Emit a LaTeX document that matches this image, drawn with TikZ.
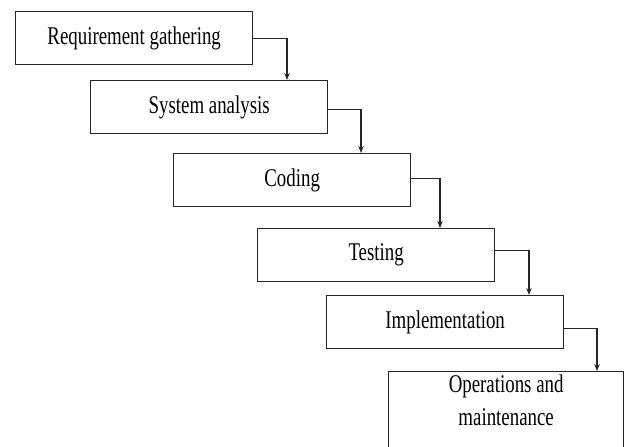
\documentclass[tikz,border=0pt]{standalone}
\usepackage{fontspec}
\setmainfont{Liberation Serif}[FakeStretch=0.74]
\usetikzlibrary{arrows.meta,calc}
\begin{document}
\begin{tikzpicture}[x=1pt,y=-1pt,
  box/.style={draw=black!85, line width=1.3pt, rectangle, anchor=north west, inner sep=0pt,
    minimum width=237pt, minimum height=53pt, font=\fontsize{25.5}{33}\selectfont},
  arr/.style={draw=black!85, line width=1.2pt, -{Stealth[length=7pt,width=5.5pt]}},
  txt/.style={font=\fontsize{25.5}{33}\selectfont, align=center, inner sep=0pt}]
\useasboundingbox (0,0) rectangle (630,447);
\clip (0,0) rectangle (630,447);
\node[box] (b1) at (15,11) {\raisebox{-1.5pt}{Requirement gathering}};
\node[box] (b2) at (90,80) {\raisebox{-1.5pt}{System analysis}};
\node[box] (b3) at (173,153) {\raisebox{-1.5pt}{Coding}};
\node[box] (b4) at (257,228) {\raisebox{-1.5pt}{Testing}};
\node[box] (b5) at (326,295) {\raisebox{-1.5pt}{Implementation}};
\node[box, minimum width=235pt, minimum height=110pt] (b6) at (388,371) {};
\node[txt, anchor=north] (b6t) at ([yshift=-4pt]b6.north) {Operations and\\maintenance};
\draw[arr] (b1.east) -| ([xshift=197pt]b2.north west);
\draw[arr] ([yshift=-2pt]b2.east) -| ([xshift=188pt]b3.north west);
\draw[arr] ([yshift=2pt]b3.east) -| ([xshift=183pt]b4.north west);
\draw[arr] ([yshift=5pt]b4.east) -| ([xshift=203pt]b5.north west);
\draw[arr] ([yshift=-6pt]b5.east) -| ([xshift=209pt]b6.north west);
\end{tikzpicture}
\end{document}
